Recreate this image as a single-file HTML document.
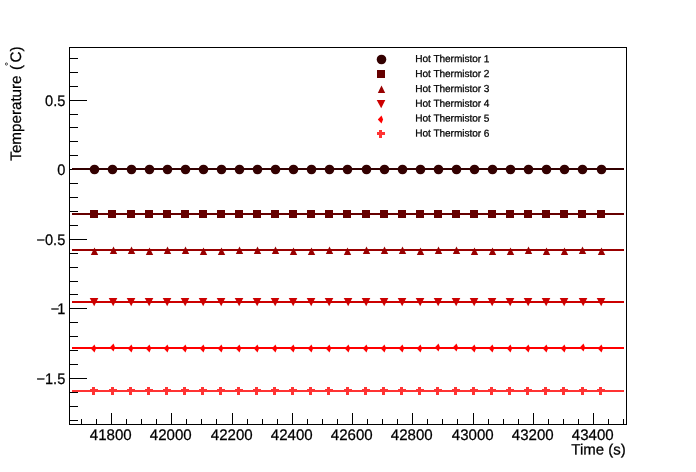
<!DOCTYPE html>
<html><head><meta charset="utf-8"><title>Hot Thermistors</title>
<style>
html,body{margin:0;padding:0;background:#fff;}
svg{display:block;}
text{font-family:"Liberation Sans",sans-serif;fill:#000;stroke:#000;stroke-width:0.25px;}
</style></head>
<body>
<svg width="696" height="472" viewBox="0 0 696 472">
<rect x="0" y="0" width="696" height="472" fill="#fff"/>
<g fill="#000" stroke="none" shape-rendering="crispEdges">
<rect x="69" y="47" width="558" height="1"/><rect x="69" y="424" width="558" height="1"/><rect x="69" y="47" width="1" height="378"/><rect x="626" y="47" width="1" height="378"/>
<rect x="81" y="419" width="1" height="5"/>
<rect x="96" y="419" width="1" height="5"/>
<rect x="111" y="413" width="1" height="11"/>
<rect x="126" y="419" width="1" height="5"/>
<rect x="141" y="419" width="1" height="5"/>
<rect x="156" y="419" width="1" height="5"/>
<rect x="171" y="413" width="1" height="11"/>
<rect x="186" y="419" width="1" height="5"/>
<rect x="201" y="419" width="1" height="5"/>
<rect x="216" y="419" width="1" height="5"/>
<rect x="232" y="413" width="1" height="11"/>
<rect x="247" y="419" width="1" height="5"/>
<rect x="262" y="419" width="1" height="5"/>
<rect x="277" y="419" width="1" height="5"/>
<rect x="292" y="413" width="1" height="11"/>
<rect x="307" y="419" width="1" height="5"/>
<rect x="322" y="419" width="1" height="5"/>
<rect x="337" y="419" width="1" height="5"/>
<rect x="352" y="413" width="1" height="11"/>
<rect x="367" y="419" width="1" height="5"/>
<rect x="382" y="419" width="1" height="5"/>
<rect x="397" y="419" width="1" height="5"/>
<rect x="412" y="413" width="1" height="11"/>
<rect x="427" y="419" width="1" height="5"/>
<rect x="442" y="419" width="1" height="5"/>
<rect x="457" y="419" width="1" height="5"/>
<rect x="473" y="413" width="1" height="11"/>
<rect x="488" y="419" width="1" height="5"/>
<rect x="503" y="419" width="1" height="5"/>
<rect x="518" y="419" width="1" height="5"/>
<rect x="533" y="413" width="1" height="11"/>
<rect x="548" y="419" width="1" height="5"/>
<rect x="563" y="419" width="1" height="5"/>
<rect x="578" y="419" width="1" height="5"/>
<rect x="593" y="413" width="1" height="11"/>
<rect x="608" y="419" width="1" height="5"/>
<rect x="623" y="419" width="1" height="5"/>
<rect x="70" y="420" width="8" height="1"/>
<rect x="70" y="406" width="8" height="1"/>
<rect x="70" y="392" width="8" height="1"/>
<rect x="70" y="378" width="17" height="1"/>
<rect x="70" y="364" width="8" height="1"/>
<rect x="70" y="350" width="8" height="1"/>
<rect x="70" y="336" width="8" height="1"/>
<rect x="70" y="322" width="8" height="1"/>
<rect x="70" y="308" width="17" height="1"/>
<rect x="70" y="294" width="8" height="1"/>
<rect x="70" y="281" width="8" height="1"/>
<rect x="70" y="267" width="8" height="1"/>
<rect x="70" y="253" width="8" height="1"/>
<rect x="70" y="239" width="17" height="1"/>
<rect x="70" y="225" width="8" height="1"/>
<rect x="70" y="211" width="8" height="1"/>
<rect x="70" y="197" width="8" height="1"/>
<rect x="70" y="183" width="8" height="1"/>
<rect x="70" y="169" width="17" height="1"/>
<rect x="70" y="155" width="8" height="1"/>
<rect x="70" y="141" width="8" height="1"/>
<rect x="70" y="127" width="8" height="1"/>
<rect x="70" y="114" width="8" height="1"/>
<rect x="70" y="100" width="17" height="1"/>
<rect x="70" y="86" width="8" height="1"/>
<rect x="70" y="72" width="8" height="1"/>
<rect x="70" y="58" width="8" height="1"/>
</g>
<g font-size="15.3px">
<text transform="translate(110.8,440) rotate(0.03) scale(0.985,1)" text-anchor="middle">41800</text>
<text transform="translate(170.8,440) rotate(0.03) scale(0.985,1)" text-anchor="middle">42000</text>
<text transform="translate(231.8,440) rotate(0.03) scale(0.985,1)" text-anchor="middle">42200</text>
<text transform="translate(291.8,440) rotate(0.03) scale(0.985,1)" text-anchor="middle">42400</text>
<text transform="translate(351.8,440) rotate(0.03) scale(0.985,1)" text-anchor="middle">42600</text>
<text transform="translate(411.8,440) rotate(0.03) scale(0.985,1)" text-anchor="middle">42800</text>
<text transform="translate(472.8,440) rotate(0.03) scale(0.985,1)" text-anchor="middle">43000</text>
<text transform="translate(532.8,440) rotate(0.03) scale(0.985,1)" text-anchor="middle">43200</text>
<text transform="translate(592.8,440) rotate(0.03) scale(0.985,1)" text-anchor="middle">43400</text>
<text transform="translate(65.3,106.0) rotate(0.03) scale(0.955,1)" text-anchor="end">0.5</text>
<text transform="translate(65.3,175.0) rotate(0.03) scale(0.955,1)" text-anchor="end">0</text>
<text transform="translate(65.3,245.0) rotate(0.03) scale(0.955,1)" text-anchor="end">−0.5</text>
<text transform="translate(65.3,314.0) rotate(0.03) scale(0.955,1)" text-anchor="end">−<tspan dx="-2.3">1</tspan></text>
<text transform="translate(65.3,384.0) rotate(0.03) scale(0.955,1)" text-anchor="end">−1.5</text>
</g>
<text transform="translate(625.8,454.6) rotate(0.03)" text-anchor="end" font-size="15px">Time (s)</text>
<g transform="translate(21,0) rotate(-89.97)" font-size="15.2px">
<text x="-75.45" y="0" text-anchor="end">Temperature</text>
<text x="-70" y="0">(</text>
<text x="-66" y="-8.9" font-size="10px" style="stroke:none">°</text>
<text x="-62.4" y="0">C</text>
<text x="-51.5" y="0">)</text>
</g>
<g fill="#330000" stroke="none">
<rect x="72" y="168" width="552" height="2" shape-rendering="crispEdges"/>
<circle cx="94.5" cy="169.5" r="4.8"/>
<circle cx="112.5" cy="169.5" r="4.8"/>
<circle cx="131.5" cy="169.5" r="4.8"/>
<circle cx="149.5" cy="169.5" r="4.8"/>
<circle cx="167.5" cy="169.5" r="4.8"/>
<circle cx="185.5" cy="169.5" r="4.8"/>
<circle cx="203.5" cy="169.5" r="4.8"/>
<circle cx="221.5" cy="169.5" r="4.8"/>
<circle cx="239.5" cy="169.5" r="4.8"/>
<circle cx="257.5" cy="169.5" r="4.8"/>
<circle cx="275.5" cy="169.5" r="4.8"/>
<circle cx="293.5" cy="169.5" r="4.8"/>
<circle cx="311.5" cy="169.5" r="4.8"/>
<circle cx="329.5" cy="169.5" r="4.8"/>
<circle cx="347.5" cy="169.5" r="4.8"/>
<circle cx="366.5" cy="169.5" r="4.8"/>
<circle cx="384.5" cy="169.5" r="4.8"/>
<circle cx="402.5" cy="169.5" r="4.8"/>
<circle cx="420.5" cy="169.5" r="4.8"/>
<circle cx="438.5" cy="169.5" r="4.8"/>
<circle cx="456.5" cy="169.5" r="4.8"/>
<circle cx="474.5" cy="169.5" r="4.8"/>
<circle cx="492.5" cy="169.5" r="4.8"/>
<circle cx="510.5" cy="169.5" r="4.8"/>
<circle cx="528.5" cy="169.5" r="4.8"/>
<circle cx="546.5" cy="169.5" r="4.8"/>
<circle cx="564.5" cy="169.5" r="4.8"/>
<circle cx="582.5" cy="169.5" r="4.8"/>
<circle cx="601.5" cy="169.5" r="4.8"/>
</g>
<g fill="#660000" stroke="none">
<rect x="72" y="213" width="552" height="2" shape-rendering="crispEdges"/>
<rect x="90" y="210" width="8" height="8"/>
<rect x="108" y="210" width="8" height="8"/>
<rect x="127" y="210" width="8" height="8"/>
<rect x="145" y="210" width="8" height="8"/>
<rect x="163" y="210" width="8" height="8"/>
<rect x="181" y="210" width="8" height="8"/>
<rect x="199" y="210" width="8" height="8"/>
<rect x="217" y="210" width="8" height="8"/>
<rect x="235" y="210" width="8" height="8"/>
<rect x="253" y="210" width="8" height="8"/>
<rect x="271" y="210" width="8" height="8"/>
<rect x="289" y="210" width="8" height="8"/>
<rect x="307" y="210" width="8" height="8"/>
<rect x="325" y="210" width="8" height="8"/>
<rect x="343" y="210" width="8" height="8"/>
<rect x="362" y="210" width="8" height="8"/>
<rect x="380" y="210" width="8" height="8"/>
<rect x="398" y="210" width="8" height="8"/>
<rect x="416" y="210" width="8" height="8"/>
<rect x="434" y="210" width="8" height="8"/>
<rect x="452" y="210" width="8" height="8"/>
<rect x="470" y="210" width="8" height="8"/>
<rect x="488" y="210" width="8" height="8"/>
<rect x="506" y="210" width="8" height="8"/>
<rect x="524" y="210" width="8" height="8"/>
<rect x="542" y="210" width="8" height="8"/>
<rect x="560" y="210" width="8" height="8"/>
<rect x="578" y="210" width="8" height="8"/>
<rect x="597" y="210" width="8" height="8"/>
</g>
<g fill="#990000" stroke="none">
<rect x="72" y="249" width="552" height="2" shape-rendering="crispEdges"/>
<polygon points="90.8,255 98.2,255 94.5,247.6"/>
<polygon points="109.8,254 117.2,254 113.5,246.6"/>
<polygon points="127.8,254 135.2,254 131.5,246.6"/>
<polygon points="145.8,255 153.2,255 149.5,247.6"/>
<polygon points="163.8,254 171.2,254 167.5,246.6"/>
<polygon points="181.8,254 189.2,254 185.5,246.6"/>
<polygon points="199.8,255 207.2,255 203.5,247.6"/>
<polygon points="217.8,255 225.2,255 221.5,247.6"/>
<polygon points="235.8,254 243.2,254 239.5,246.6"/>
<polygon points="253.8,254 261.2,254 257.5,246.6"/>
<polygon points="271.8,254 279.2,254 275.5,246.6"/>
<polygon points="289.8,255 297.2,255 293.5,247.6"/>
<polygon points="307.8,255 315.2,255 311.5,247.6"/>
<polygon points="325.8,254 333.2,254 329.5,246.6"/>
<polygon points="343.8,255 351.2,255 347.5,247.6"/>
<polygon points="362.8,254 370.2,254 366.5,246.6"/>
<polygon points="380.8,254 388.2,254 384.5,246.6"/>
<polygon points="398.8,254 406.2,254 402.5,246.6"/>
<polygon points="416.8,255 424.2,255 420.5,247.6"/>
<polygon points="434.8,254 442.2,254 438.5,246.6"/>
<polygon points="452.8,254 460.2,254 456.5,246.6"/>
<polygon points="470.8,255 478.2,255 474.5,247.6"/>
<polygon points="488.8,255 496.2,255 492.5,247.6"/>
<polygon points="506.8,255 514.2,255 510.5,247.6"/>
<polygon points="524.8,254 532.2,254 528.5,246.6"/>
<polygon points="542.8,255 550.2,255 546.5,247.6"/>
<polygon points="560.8,255 568.2,255 564.5,247.6"/>
<polygon points="578.8,254 586.2,254 582.5,246.6"/>
<polygon points="597.8,255 605.2,255 601.5,247.6"/>
</g>
<g fill="#cc0000" stroke="none">
<rect x="72" y="301" width="552" height="2" shape-rendering="crispEdges"/>
<polygon points="89.7,298 98.3,298 94.2,306.3"/>
<polygon points="108.7,298 117.3,298 113.2,306.3"/>
<polygon points="126.7,298 135.3,298 131.2,306.3"/>
<polygon points="144.7,298 153.3,298 149.2,306.3"/>
<polygon points="162.7,298 171.3,298 167.2,306.3"/>
<polygon points="180.7,298 189.3,298 185.2,306.3"/>
<polygon points="198.7,298 207.3,298 203.2,306.3"/>
<polygon points="216.7,298 225.3,298 221.2,306.3"/>
<polygon points="234.7,298 243.3,298 239.2,306.3"/>
<polygon points="252.7,298 261.3,298 257.2,306.3"/>
<polygon points="270.7,298 279.3,298 275.2,306.3"/>
<polygon points="288.7,298 297.3,298 293.2,306.3"/>
<polygon points="306.7,298 315.3,298 311.2,306.3"/>
<polygon points="324.7,298 333.3,298 329.2,306.3"/>
<polygon points="343.7,298 352.3,298 348.2,306.3"/>
<polygon points="361.7,298 370.3,298 366.2,306.3"/>
<polygon points="379.7,298 388.3,298 384.2,306.3"/>
<polygon points="397.7,298 406.3,298 402.2,306.3"/>
<polygon points="415.7,298 424.3,298 420.2,306.3"/>
<polygon points="433.7,298 442.3,298 438.2,306.3"/>
<polygon points="451.7,298 460.3,298 456.2,306.3"/>
<polygon points="469.7,298 478.3,298 474.2,306.3"/>
<polygon points="487.7,298 496.3,298 492.2,306.3"/>
<polygon points="505.7,298 514.3,298 510.2,306.3"/>
<polygon points="523.7,298 532.3,298 528.2,306.3"/>
<polygon points="541.7,298 550.3,298 546.2,306.3"/>
<polygon points="559.7,298 568.3,298 564.2,306.3"/>
<polygon points="578.7,298 587.3,298 583.2,306.3"/>
<polygon points="596.7,298 605.3,298 601.2,306.3"/>
</g>
<g fill="#ff0000" stroke="none">
<rect x="72" y="347" width="552" height="2" shape-rendering="crispEdges"/>
<polygon points="90.8,348.5 94.5,344.6 96.1,348.5 94.5,352.4"/>
<polygon points="109.8,347.5 113.5,343.6 115.1,347.5 113.5,351.4"/>
<polygon points="127.8,348.5 131.5,344.6 133.1,348.5 131.5,352.4"/>
<polygon points="145.8,348.5 149.5,344.6 151.1,348.5 149.5,352.4"/>
<polygon points="163.8,348.5 167.5,344.6 169.1,348.5 167.5,352.4"/>
<polygon points="181.8,348.5 185.5,344.6 187.1,348.5 185.5,352.4"/>
<polygon points="199.8,348.5 203.5,344.6 205.1,348.5 203.5,352.4"/>
<polygon points="217.8,348.5 221.5,344.6 223.1,348.5 221.5,352.4"/>
<polygon points="235.8,348.5 239.5,344.6 241.1,348.5 239.5,352.4"/>
<polygon points="253.8,348.5 257.5,344.6 259.1,348.5 257.5,352.4"/>
<polygon points="271.8,348.5 275.5,344.6 277.1,348.5 275.5,352.4"/>
<polygon points="289.8,348.5 293.5,344.6 295.1,348.5 293.5,352.4"/>
<polygon points="307.8,348.5 311.5,344.6 313.1,348.5 311.5,352.4"/>
<polygon points="325.8,348.5 329.5,344.6 331.1,348.5 329.5,352.4"/>
<polygon points="344.8,348.5 348.5,344.6 350.1,348.5 348.5,352.4"/>
<polygon points="362.8,348.5 366.5,344.6 368.1,348.5 366.5,352.4"/>
<polygon points="380.8,348.5 384.5,344.6 386.1,348.5 384.5,352.4"/>
<polygon points="398.8,348.5 402.5,344.6 404.1,348.5 402.5,352.4"/>
<polygon points="416.8,348.5 420.5,344.6 422.1,348.5 420.5,352.4"/>
<polygon points="434.8,347.5 438.5,343.6 440.1,347.5 438.5,351.4"/>
<polygon points="452.8,347.5 456.5,343.6 458.1,347.5 456.5,351.4"/>
<polygon points="470.8,348.5 474.5,344.6 476.1,348.5 474.5,352.4"/>
<polygon points="488.8,348.5 492.5,344.6 494.1,348.5 492.5,352.4"/>
<polygon points="506.8,348.5 510.5,344.6 512.1,348.5 510.5,352.4"/>
<polygon points="524.8,348.5 528.5,344.6 530.1,348.5 528.5,352.4"/>
<polygon points="542.8,348.5 546.5,344.6 548.1,348.5 546.5,352.4"/>
<polygon points="560.8,348.5 564.5,344.6 566.1,348.5 564.5,352.4"/>
<polygon points="579.8,347.5 583.5,343.6 585.1,347.5 583.5,351.4"/>
<polygon points="597.8,348.5 601.5,344.6 603.1,348.5 601.5,352.4"/>
</g>
<g fill="#ff3333" stroke="none">
<rect x="72" y="390" width="552" height="2" shape-rendering="crispEdges"/>
<path d="M90,389h2v-2h3v2h3v3h-3v3h-3v-3h-2z"/>
<path d="M109,389h2v-2h3v2h3v3h-3v3h-3v-3h-2z"/>
<path d="M127,389h2v-2h3v2h3v3h-3v3h-3v-3h-2z"/>
<path d="M145,389h2v-2h3v2h3v3h-3v3h-3v-3h-2z"/>
<path d="M163,389h2v-2h3v2h3v3h-3v3h-3v-3h-2z"/>
<path d="M181,389h2v-2h3v2h3v3h-3v3h-3v-3h-2z"/>
<path d="M199,389h2v-2h3v2h3v3h-3v3h-3v-3h-2z"/>
<path d="M217,389h2v-2h3v2h3v3h-3v3h-3v-3h-2z"/>
<path d="M235,389h2v-2h3v2h3v3h-3v3h-3v-3h-2z"/>
<path d="M253,389h2v-2h3v2h3v3h-3v3h-3v-3h-2z"/>
<path d="M271,389h2v-2h3v2h3v3h-3v3h-3v-3h-2z"/>
<path d="M289,389h2v-2h3v2h3v3h-3v3h-3v-3h-2z"/>
<path d="M307,389h2v-2h3v2h3v3h-3v3h-3v-3h-2z"/>
<path d="M325,389h2v-2h3v2h3v3h-3v3h-3v-3h-2z"/>
<path d="M344,389h2v-2h3v2h3v3h-3v3h-3v-3h-2z"/>
<path d="M362,389h2v-2h3v2h3v3h-3v3h-3v-3h-2z"/>
<path d="M380,389h2v-2h3v2h3v3h-3v3h-3v-3h-2z"/>
<path d="M398,389h2v-2h3v2h3v3h-3v3h-3v-3h-2z"/>
<path d="M416,389h2v-2h3v2h3v3h-3v3h-3v-3h-2z"/>
<path d="M434,389h2v-2h3v2h3v3h-3v3h-3v-3h-2z"/>
<path d="M452,389h2v-2h3v2h3v3h-3v3h-3v-3h-2z"/>
<path d="M470,389h2v-2h3v2h3v3h-3v3h-3v-3h-2z"/>
<path d="M488,389h2v-2h3v2h3v3h-3v3h-3v-3h-2z"/>
<path d="M506,389h2v-2h3v2h3v3h-3v3h-3v-3h-2z"/>
<path d="M524,389h2v-2h3v2h3v3h-3v3h-3v-3h-2z"/>
<path d="M542,389h2v-2h3v2h3v3h-3v3h-3v-3h-2z"/>
<path d="M560,389h2v-2h3v2h3v3h-3v3h-3v-3h-2z"/>
<path d="M579,389h2v-2h3v2h3v3h-3v3h-3v-3h-2z"/>
<path d="M597,389h2v-2h3v2h3v3h-3v3h-3v-3h-2z"/>
</g>
<g fill="#330000"><circle cx="381.5" cy="59.5" r="4.8"/></g>
<text x="415.3" y="62.1" transform="rotate(0.03 415.3 62.1)" font-size="10.1px" letter-spacing="-0.06">Hot Thermistor 1</text>
<g fill="#660000"><rect x="377" y="70" width="8" height="8"/></g>
<text x="415.3" y="77" transform="rotate(0.03 415.3 77)" font-size="10.1px" letter-spacing="-0.06">Hot Thermistor 2</text>
<g fill="#990000"><polygon points="377.8,93 385.2,93 381.5,85.6"/></g>
<text x="415.3" y="91.9" transform="rotate(0.03 415.3 91.9)" font-size="10.1px" letter-spacing="-0.06">Hot Thermistor 3</text>
<g fill="#cc0000"><polygon points="376.7,100 385.3,100 381.2,108.3"/></g>
<text x="415.3" y="106.7" transform="rotate(0.03 415.3 106.7)" font-size="10.1px" letter-spacing="-0.06">Hot Thermistor 4</text>
<g fill="#ff0000"><polygon points="377.8,119.5 381.5,115.6 383.1,119.5 381.5,123.4"/></g>
<text x="415.3" y="121.6" transform="rotate(0.03 415.3 121.6)" font-size="10.1px" letter-spacing="-0.06">Hot Thermistor 5</text>
<g fill="#ff3333"><path d="M377,132h2v-2h3v2h3v3h-3v3h-3v-3h-2z"/></g>
<text x="415.3" y="136.6" transform="rotate(0.03 415.3 136.6)" font-size="10.1px" letter-spacing="-0.06">Hot Thermistor 6</text>
</svg>
</body></html>
